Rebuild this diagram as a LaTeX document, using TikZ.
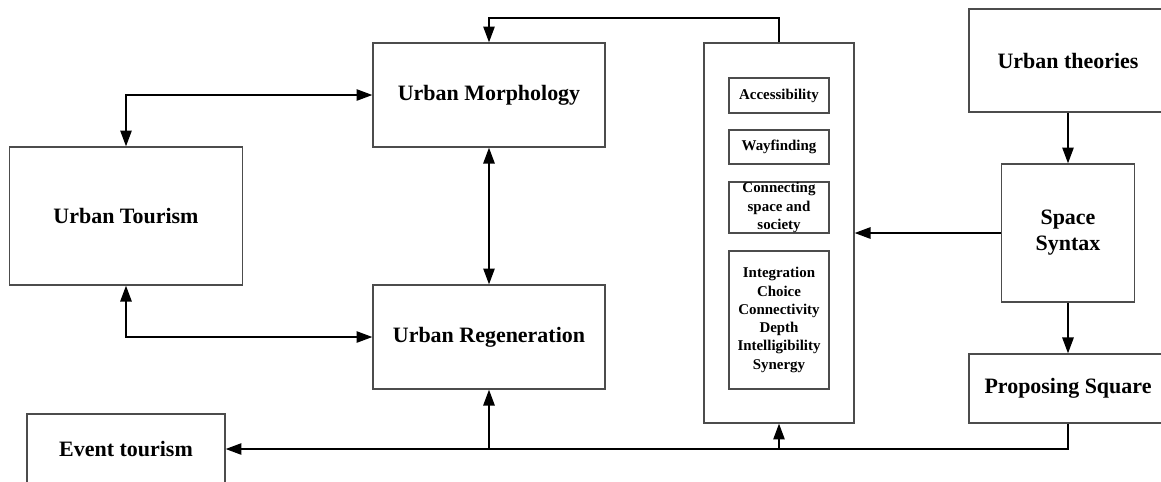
\documentclass[tikz,border=0pt]{standalone}
\usepackage{fontspec}
\setmainfont{Liberation Serif}
\usetikzlibrary{arrows.meta}
\usetikzlibrary{positioning}
\tikzset{
    box/.style={
        rectangle,
        draw=black!70,
        line width=0.8pt,
        inner sep=0pt,
        align=center,
        text=black,
        font=\fontsize{12.5}{15}\selectfont\bfseries
    },
    smallbox/.style={
        box,
        minimum width=2cm,
        font=\fontsize{8.5}{10.4}\selectfont\bfseries
    },
    arrow/.style={
        -{Triangle[length=9pt,width=6.5pt]},
        line width=0.8pt,
        draw=black
    },
    twoway/.style={
        arrow,
        {Triangle[length=9pt,width=6.5pt]}-{Triangle[length=9pt,width=6.5pt]}
    }
}

\begin{document}
\begin{tikzpicture}[x=0.02cm, y=-0.02cm]
            \clip (0,0) rectangle (1161,481);
            \useasboundingbox (0,0) rectangle (1161,481);

            % Left column
            \node[box, minimum width=4.66cm, minimum height=2.76cm] (tourism) at (126,216) {Urban Tourism};
            \node[box, minimum width=3.96cm, minimum height=1.40cm] (event) at (126,449) {Event tourism};

            % Middle column
            \node[box, minimum width=4.64cm, minimum height=2.08cm] (morph) at (489,95) {Urban Morphology};
            \node[box, minimum width=4.64cm, minimum height=2.08cm] (regen) at (489,337) {Urban Regeneration};

            % Space syntax measures
            \node[box, minimum width=3.0cm, minimum height=7.6cm] (frame) at (779,233) {};
            \node[smallbox, minimum height=0.70cm] (access) at (779,95.5) {Accessibility};
            \node[smallbox, minimum height=0.68cm] (wayfind) at (779,147) {Wayfinding};
            \node[smallbox, minimum height=1.02cm] (connect) at (779,207.5) {Connecting\\space and\\society};
            \node[smallbox, minimum height=2.76cm] (measures) at (779,320)
                {Integration\\Choice\\Connectivity\\Depth\\Intelligibility\\Synergy};

            % Right column
            \node[box, minimum width=3.96cm, minimum height=2.06cm] (theories) at (1068,60.5) {Urban theories};
            \node[box, minimum width=2.66cm, minimum height=2.76cm, font=\fontsize{12.5}{14.7}\selectfont\bfseries]
                (syntax) at (1068,233) {Space\\Syntax};
            \node[box, minimum width=3.96cm, minimum height=1.38cm] (square) at (1068,388.5) {Proposing Square};

            % Links
            \coordinate (top) at (779,18);
            \draw[arrow] (frame.north) -- (top) -| (morph.north);
            \draw[twoway] (tourism.north) |- (morph.west);
            \draw[twoway] (tourism.south) |- (regen.west);
            \draw[twoway] (morph) -- (regen);
            \draw[arrow] (theories) -- (syntax);
            \draw[arrow] (syntax) -- (square);
            \draw[arrow] (syntax) -- (frame);
            \draw[arrow] (square.south) |- (event.east);
            \draw[arrow] (regen.south |- event.east) -- (regen.south);
            \draw[arrow] (frame.south |- event.east) -- (frame.south);
\end{tikzpicture}
\end{document}
